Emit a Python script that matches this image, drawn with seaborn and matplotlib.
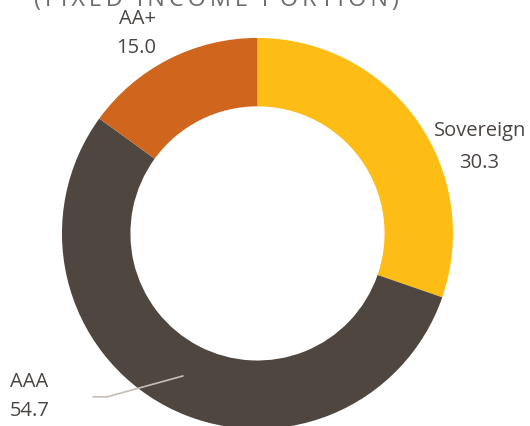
import matplotlib
matplotlib.use("Agg")
import matplotlib.pyplot as plt
import seaborn as sns

categories = ["Sovereign", "AAA", "AA+"]
values = [30.3, 54.7, 15.0]
value_labels = ["30.3", "54.7", "15.0"]
colors = ["#FDBD14", "#4F4640", "#D0661E"]
title = "(FIXED INCOME PORTION)"

sns.set_theme(style="white")
plt.rcParams['font.family'] = ['Open Sans', 'DejaVu Sans']

fig = plt.figure(figsize=(5.30, 4.26), dpi=100)
ax = fig.add_axes([0, 0, 1, 1])
ax.pie(values, colors=colors, startangle=90, counterclock=False,
       radius=1.0, wedgeprops=dict(width=0.35, edgecolor='none'))
ax.set_xlim(-1.317, 1.394)
ax.set_ylim(-0.985, 1.194)
ax.set_aspect('equal')
ax.axis('off')

tc = "#4a4543"
fs = 14.5
# Sovereign
ax.text(1.138, 0.524, categories[0], ha='center', va='center', fontsize=fs, color=tc)
ax.text(1.133, 0.361, value_labels[0], ha='center', va='center', fontsize=fs, color=tc)
# AA+
ax.text(-0.616, 1.097, categories[2], ha='center', va='center', fontsize=fs, color=tc)
ax.text(-0.621, 0.950, value_labels[2], ha='center', va='center', fontsize=fs, color=tc)
# AAA
ax.text(-1.266, -0.762, categories[1], ha='left', va='center', fontsize=fs, color=tc)
ax.text(-1.266, -0.908, value_labels[1], ha='left', va='center', fontsize=fs, color=tc)
ax.plot([-0.841, -0.770, -0.381], [-0.836, -0.836, -0.729], color="#c4bdb8", lw=1.2)

spaced_title = "\u2009".join(title)
ax.text(-0.210, 1.163, spaced_title, ha='center', va='baseline', fontsize=17,
        color="#6d6e70")

fig.savefig("out.png", dpi=100)
